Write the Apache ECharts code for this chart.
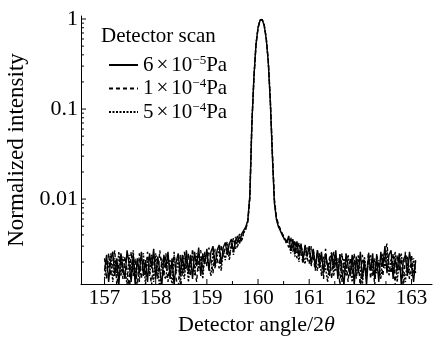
<!DOCTYPE html>
<html><head><meta charset="utf-8">
<script src="https://cdn.jsdelivr.net/npm/echarts@6/dist/echarts.min.js"></script>
<style>html,body{margin:0;padding:0;background:#fff}#c{width:433px;height:339px}</style>
</head><body><div id="c"></div>
<script>
const angles = [
157.00,157.04,157.08,157.12,157.16,157.20,157.24,157.28,157.32,157.36,
157.40,157.44,157.48,157.52,157.56,157.60,157.64,157.68,157.72,157.76,
157.80,157.84,157.88,157.92,157.96,158.00,158.04,158.08,158.12,158.16,
158.20,158.24,158.28,158.32,158.36,158.40,158.44,158.48,158.52,158.56,
158.60,158.64,158.68,158.72,158.76,158.80,158.84,158.88,158.92,158.96,
159.00,159.04,159.08,159.12,159.16,159.20,159.24,159.28,159.32,159.36,
159.40,159.44,159.48,159.52,159.56,159.60,159.64,159.68,159.72,159.76,
159.80,159.84,159.88,159.92,159.96,160.00,160.04,160.08,160.12,160.16,
160.20,160.24,160.28,160.32,160.36,160.40,160.44,160.48,160.52,160.56,
160.60,160.64,160.68,160.72,160.76,160.80,160.84,160.88,160.92,160.96,
161.00,161.04,161.08,161.12,161.16,161.20,161.24,161.28,161.32,161.36,
161.40,161.44,161.48,161.52,161.56,161.60,161.64,161.68,161.72,161.76,
161.80,161.84,161.88,161.92,161.96,162.00,162.04,162.08,162.12,162.16,
162.20,162.24,162.28,162.32,162.36,162.40,162.44,162.48,162.52,162.56,
162.60,162.64,162.68,162.72,162.76,162.80,162.84,162.88,162.92,162.96,
163.00,163.04,163.08];

const scan6e5 = [
0.0016,0.0024,0.0012,0.0021,0.0026,0.0014,0.0022,0.0011,0.0025,0.0017,
0.0013,0.0027,0.0019,0.0012,0.0024,0.0011,0.0022,0.0015,0.0026,0.0014,
0.0021,0.0012,0.0025,0.0017,0.0028,0.0013,0.0023,0.0016,0.0011,0.0024,
0.0017,0.0026,0.0013,0.0022,0.0011,0.0020,0.0025,0.0014,0.0024,0.0016,
0.0027,0.0015,0.0024,0.0013,0.0026,0.0018,0.0029,0.0014,0.0025,0.0019,
0.0028,0.0016,0.0026,0.0030,0.0018,0.0027,0.0031,0.0019,0.0029,0.0033,
0.0024,0.0032,0.0036,0.0026,0.0034,0.0039,0.0032,0.0041,0.0045,0.0049,
0.0058,0.011,0.07,0.23,0.52,0.80,0.97,0.99,0.85,0.60,
0.33,0.12,0.03,0.009,0.0059,0.0049,0.0044,0.0039,0.0036,0.0033,
0.0039,0.0027,0.0036,0.0025,0.0034,0.0023,0.0032,0.0021,0.0031,0.0023,
0.0030,0.0019,0.0028,0.0017,0.0027,0.0019,0.0026,0.0015,0.0025,0.0018,
0.0014,0.0025,0.0017,0.0027,0.0013,0.0024,0.0016,0.0011,0.0025,0.0018,
0.0014,0.0024,0.0011,0.0023,0.0015,0.0026,0.0013,0.0021,0.0011,0.0024,
0.0016,0.0025,0.0013,0.0023,0.0012,0.0026,0.0018,0.0030,0.0015,0.0024,
0.0027,0.0013,0.0022,0.0016,0.0025,0.0011,0.0021,0.0024,0.0014,0.0026,
0.0018,0.0012,0.0021];

const scan1e4 = [
0.0022,0.0013,0.0025,0.0014,0.0020,0.0027,0.0011,0.0019,0.0024,0.0013,
0.0023,0.0016,0.0011,0.0026,0.0014,0.0022,0.0010,0.0025,0.0013,0.0021,
0.0014,0.0026,0.0016,0.0011,0.0024,0.0020,0.0013,0.0027,0.0017,0.0014,
0.0025,0.0012,0.0021,0.0015,0.0026,0.0013,0.0010,0.0024,0.0014,0.0026,
0.0017,0.0025,0.0014,0.0028,0.0017,0.0012,0.0023,0.0027,0.0015,0.0026,
0.0018,0.0029,0.0021,0.0015,0.0028,0.0022,0.0017,0.0031,0.0023,0.0029,
0.0034,0.0023,0.0030,0.0037,0.0028,0.0035,0.0041,0.0035,0.0043,0.0047,
0.0056,0.010,0.068,0.22,0.51,0.79,0.97,0.99,0.86,0.62,
0.35,0.13,0.034,0.010,0.0063,0.0052,0.0046,0.0041,0.0037,0.0034,
0.0029,0.0038,0.0026,0.0035,0.0022,0.0033,0.0025,0.0019,0.0030,0.0022,
0.0019,0.0030,0.0022,0.0016,0.0027,0.0017,0.0024,0.0013,0.0028,0.0016,
0.0023,0.0013,0.0026,0.0016,0.0022,0.0011,0.0025,0.0015,0.0021,0.0012,
0.0022,0.0015,0.0025,0.0013,0.0021,0.0010,0.0024,0.0017,0.0014,0.0026,
0.0013,0.0021,0.0011,0.0025,0.0017,0.0022,0.0014,0.0025,0.0032,0.0018,
0.0015,0.0025,0.0011,0.0024,0.0016,0.0022,0.0010,0.0026,0.0018,0.0013,
0.0024,0.0015,0.0020];

const scan5e4 = [
0.0013,0.0021,0.0017,0.0025,0.0012,0.0022,0.0015,0.0026,0.0014,0.0023,
0.0017,0.0011,0.0024,0.0015,0.0027,0.0013,0.0021,0.0012,0.0023,0.0025,
0.0011,0.0023,0.0014,0.0024,0.0012,0.0025,0.0017,0.0010,0.0022,0.0014,
0.0013,0.0023,0.0017,0.0011,0.0024,0.0015,0.0022,0.0011,0.0021,0.0013,
0.0022,0.0012,0.0021,0.0024,0.0014,0.0025,0.0016,0.0023,0.0013,0.0024,
0.0025,0.0018,0.0014,0.0027,0.0017,0.0023,0.0028,0.0016,0.0027,0.0021,
0.0029,0.0021,0.0033,0.0024,0.0038,0.0029,0.0039,0.0034,0.0042,0.0046,
0.0057,0.011,0.072,0.23,0.53,0.81,0.97,0.99,0.85,0.61,
0.34,0.125,0.032,0.0095,0.0061,0.0050,0.0045,0.0040,0.0035,0.0032,
0.0036,0.0025,0.0034,0.0023,0.0032,0.0020,0.0031,0.0024,0.0019,0.0029,
0.0026,0.0018,0.0027,0.0020,0.0016,0.0025,0.0014,0.0023,0.0017,0.0012,
0.0021,0.0026,0.0014,0.0022,0.0015,0.0025,0.0012,0.0022,0.0014,0.0024,
0.0017,0.0012,0.0021,0.0014,0.0024,0.0016,0.0011,0.0023,0.0015,0.0021,
0.0024,0.0014,0.0022,0.0015,0.0021,0.0013,0.0025,0.0017,0.0027,0.0014,
0.0022,0.0016,0.0026,0.0012,0.0021,0.0025,0.0015,0.0012,0.0023,0.0016,
0.0014,0.0022,0.0015];

const seriesNames = ['6e-5 Pa', '1e-4 Pa', '5e-4 Pa'];
const legendLabels = ['6{x|×}10{sup|−5}Pa', '1{x|×}10{sup|−4}Pa', '5{x|×}10{sup|−4}Pa'];
const lineTypes = ['solid', [4, 3], [2, 1.5]];
const xMajorTicks = [157, 158, 159, 160, 161, 162, 163];
const xMinorTicks = [157.5, 158.5, 159.5, 160.5, 161.5, 162.5];
const yMajorTicks = [0.01, 0.1, 1];
const yMinorTicks = [0.002,0.003,0.004,0.005,0.006,0.007,0.008,0.009,
                     0.02,0.03,0.04,0.05,0.06,0.07,0.08,0.09,
                     0.2,0.3,0.4,0.5,0.6,0.7,0.8,0.9];

const X_MIN = 156.54, X_MAX = 163.4, Y_MIN = 0.00114, Y_MAX = 1.08;
const FONT = '"Liberation Serif","Times New Roman",serif';

const chart = echarts.init(document.getElementById('c'), null, {renderer: 'canvas'});

function tickSeries(kind, values, len) {
  return {
    type: 'custom', silent: true, clip: false, z: 5, animation: false,
    data: values.map(v => kind === 'x' ? [v, Y_MIN] : [X_MIN, v]),
    renderItem(params, api) {
      const p = api.coord([api.value(0), api.value(1)]);
      const shape = kind === 'x'
        ? {x1: p[0], y1: p[1], x2: p[0], y2: p[1] - len}
        : {x1: p[0], y1: p[1], x2: p[0] + len, y2: p[1]};
      return {type: 'line', shape, style: {stroke: '#000', lineWidth: 1}};
    }
  };
}

const datasets = [scan6e5, scan1e4, scan5e4];
const lineSeries = datasets.map((ys, k) => ({
  type: 'line', name: seriesNames[k],
  data: angles.map((a, i) => [a, ys[i]]),
  symbol: 'none', showSymbol: false, animation: false,
  lineStyle: {color: '#000', width: 1.4, type: lineTypes[k]},
  itemStyle: {color: '#000'}
}));

const labelRich = {
  x: {fontFamily: FONT, fontSize: 21, color: '#000', padding: [0, 3, 0, 3]},
  sup: {fontFamily: FONT, fontSize: 13, color: '#000', verticalAlign: 'top', padding: [0, 0, 7, 0]}
};

chart.setOption({
  animation: false,
  backgroundColor: '#fff',
  title: {
    text: 'Detector scan', left: 101, top: 26, padding: 0,
    textStyle: {fontFamily: FONT, fontSize: 21, fontWeight: 'normal', color: '#000'}
  },
  legend: {
    data: seriesNames, orient: 'vertical', left: 108, top: 54, padding: 0,
    itemWidth: 29, itemHeight: 12, itemGap: 1.5,
    itemStyle: {opacity: 0, borderWidth: 0},
    lineStyle: {opacity: 1},
    formatter: name => legendLabels[seriesNames.indexOf(name)],
    textStyle: {fontFamily: FONT, fontSize: 21, color: '#000', lineHeight: 22, rich: labelRich}
  },
  grid: {left: 81, right: 1, top: 16, bottom: 55, outerBoundsMode: 'none', containLabel: false},
  xAxis: {
    type: 'value', min: X_MIN, max: X_MAX, splitNumber: 7,
    axisLine: {onZero: false, lineStyle: {color: '#000', width: 1}},
    axisTick: {show: false}, splitLine: {show: false},
    axisLabel: {
      fontFamily: FONT, fontSize: 21, color: '#000', margin: 4,
      showMinLabel: false, showMaxLabel: false,
      formatter: v => (Math.abs(v - Math.round(v)) < 1e-6 ? String(Math.round(v)) : '')
    },
    name: 'Detector angle/2{i|θ}', nameLocation: 'middle', nameGap: 25,
    nameTextStyle: {fontFamily: FONT, fontSize: 22, color: '#000',
      rich: {i: {fontFamily: FONT, fontSize: 22, fontStyle: 'italic', color: '#000'}}}
  },
  yAxis: {
    type: 'log', logBase: 10, min: Y_MIN, max: Y_MAX,
    axisLine: {show: true, lineStyle: {color: '#000', width: 1}},
    axisTick: {show: false}, splitLine: {show: false},
    axisLabel: {
      fontFamily: FONT, fontSize: 22, color: '#000', margin: 3,
      showMinLabel: false, showMaxLabel: false,
      formatter: v => {
        const l = Math.log10(v);
        if (Math.abs(l - Math.round(l)) > 1e-6) return '';
        return String(+Math.pow(10, Math.round(l)).toPrecision(1));
      }
    },
    name: 'Normalized intensity', nameLocation: 'middle', nameGap: 52,
    nameTextStyle: {fontFamily: FONT, fontSize: 23, color: '#000'}
  },
  series: [
    ...lineSeries,
    tickSeries('x', xMajorTicks, 5),
    tickSeries('x', xMinorTicks, 3),
    tickSeries('y', yMajorTicks, 5),
    tickSeries('y', yMinorTicks, 3)
  ]
});
</script></body></html>
